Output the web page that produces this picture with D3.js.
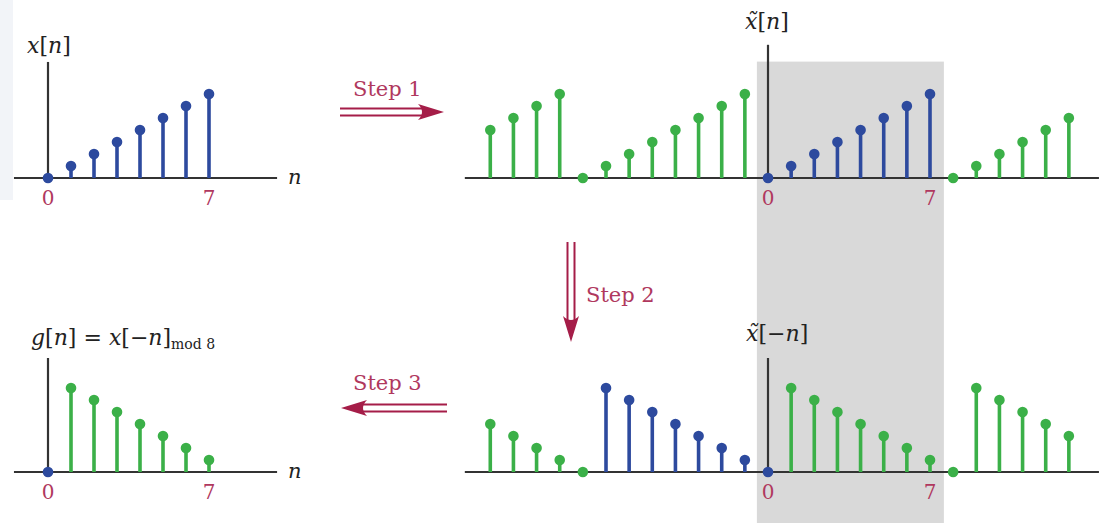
<!DOCTYPE html>
<html>
<head>
<meta charset="utf-8">
<script src="https://cdn.jsdelivr.net/npm/d3@7"></script>
<style>
  body { margin: 0; background: #fff; }
  svg { display: block; }
</style>
</head>
<body>
<div id="chart"></div>
<script>
// x[n], 0..7
const nBase = [0, 1, 2, 3, 4, 5, 6, 7];
const xValues = [0, 1, 2, 3, 4, 5, 6, 7];

// periodic extension x~[n], n = -12..13
const nExt = [-12, -11, -10, -9, -8, -7, -6, -5, -4, -3, -2, -1, 0, 1, 2, 3, 4, 5, 6, 7, 8, 9, 10, 11, 12, 13];
const xTildeValues = [4, 5, 6, 7, 0, 1, 2, 3, 4, 5, 6, 7, 0, 1, 2, 3, 4, 5, 6, 7, 0, 1, 2, 3, 4, 5];

// time reversed x~[-n], n = -12..13
const xTildeRevValues = [4, 3, 2, 1, 0, 7, 6, 5, 4, 3, 2, 1, 0, 7, 6, 5, 4, 3, 2, 1, 0, 7, 6, 5, 4, 3];

// g[n] = x[-n] mod 8, 0..7
const gValues = [0, 7, 6, 5, 4, 3, 2, 1];

const tickLabels = ["0", "7"];
const stepLabels = ["Step 1", "Step 2", "Step 3"];

const width = 1109;
const height = 523;

const blue = "#2d4a9e";
const green = "#3bb048";
const axisColor = "#333";
const red = "#b0385e";
const arrowColor = "#a51d48";
const mathFont = "DejaVu Serif, serif";

const svg = d3.select("#chart")
  .append("svg")
  .attr("width", width)
  .attr("height", height);

// light side panel at the left edge
svg.append("rect")
  .attr("x", 0).attr("y", 0)
  .attr("width", 13).attr("height", 200)
  .attr("fill", "#f2f4f8");

// scales for the four panels
const xLeft = d3.scaleLinear().domain([0, 7]).range([48, 209]);
const xRight = d3.scaleLinear().domain([0, 7]).range([768, 930]);
const yTop = d3.scaleLinear().domain([0, 7]).range([178, 94]);
const yBottom = d3.scaleLinear().domain([0, 7]).range([472, 388]);

// gray window n = 0..7 on the right column
svg.append("rect")
  .attr("x", xRight(-0.48))
  .attr("y", yTop(9.7))
  .attr("width", xRight(7.6) - xRight(-0.48))
  .attr("height", height - yTop(9.7))
  .attr("fill", "#d9d9d9");

function drawPanel(x, y, ns, vals, colorOf, nRange, yMax, showN) {
  const g = svg.append("g");

  // horizontal axis
  g.append("line")
    .attr("x1", x(nRange[0])).attr("x2", x(nRange[1]))
    .attr("y1", y(0)).attr("y2", y(0))
    .attr("stroke", axisColor).attr("stroke-width", 2.2);

  // vertical axis
  g.append("line")
    .attr("x1", x(0)).attr("x2", x(0))
    .attr("y1", y(0)).attr("y2", y(yMax))
    .attr("stroke", axisColor).attr("stroke-width", 2.2);

  const data = ns.map((n, i) => ({ n: n, v: vals[i] }));

  g.selectAll(".stem")
    .data(data.filter(d => d.v !== 0))
    .join("line")
    .attr("x1", d => x(d.n)).attr("x2", d => x(d.n))
    .attr("y1", y(0)).attr("y2", d => y(d.v))
    .attr("stroke", d => colorOf(d.n))
    .attr("stroke-width", 3.6);

  g.selectAll(".dot")
    .data(data)
    .join("circle")
    .attr("cx", d => x(d.n))
    .attr("cy", d => y(d.v))
    .attr("r", 5.3)
    .attr("fill", d => colorOf(d.n));

  // tick labels 0 and 7
  g.selectAll(".tick")
    .data(tickLabels)
    .join("text")
    .attr("x", d => x(+d))
    .attr("y", y(0) + 27)
    .attr("text-anchor", "middle")
    .attr("font-family", mathFont)
    .attr("font-size", 20)
    .attr("fill", red)
    .text(d => d);

  if (showN) {
    g.append("text")
      .attr("x", x(nRange[1]) + 11)
      .attr("y", y(0) + 6)
      .attr("font-family", mathFont)
      .attr("font-style", "italic")
      .attr("font-size", 21)
      .attr("fill", "#222")
      .text("n");
  }
}

drawPanel(xLeft, yTop, nBase, xValues, () => blue, [-1.48, 9.96], 9.67, true);
drawPanel(xRight, yTop, nExt, xTildeValues,
  n => (n >= 0 && n <= 7 ? blue : green), [-13.1, 14.3], 11.1, false);
drawPanel(xLeft, yBottom, nBase, gValues, n => (n === 0 ? blue : green), [-1.48, 9.96], 9.5, true);
drawPanel(xRight, yBottom, nExt, xTildeRevValues,
  n => (n >= -7 && n <= 0 ? blue : green), [-13.1, 14.3], 9.5, false);

// panel titles
function mathLabel(x, y, parts) {
  const t = svg.append("text")
    .attr("x", x).attr("y", y)
    .attr("font-family", mathFont)
    .attr("font-size", 22)
    .attr("fill", "#222")
    .style("white-space", "pre");
  parts.forEach(p => {
    const s = t.append("tspan").text(p.t);
    if (p.i) s.attr("font-style", "italic");
    if (p.sub) s.attr("font-size", 14).attr("dy", p.dy);
  });
  return t;
}

mathLabel(27, 53, [{ t: "x", i: true }, { t: "[" }, { t: "n", i: true }, { t: "]" }]);
mathLabel(745, 29, [{ t: "x\u0303", i: true }, { t: "[" }, { t: "n", i: true }, { t: "]" }]);
mathLabel(746, 341, [{ t: "x\u0303", i: true }, { t: "[\u2212" }, { t: "n", i: true }, { t: "]" }]);
mathLabel(31, 345, [
  { t: "g", i: true }, { t: "[" }, { t: "n", i: true }, { t: "] = " },
  { t: "x", i: true }, { t: "[\u2212" }, { t: "n", i: true }, { t: "]" },
  { t: "mod 8", sub: true, dy: 4 }
]);

// double-line arrows (Longrightarrow style)
function doubleArrow(x1, y1, x2, y2) {
  const ang = Math.atan2(y2 - y1, x2 - x1);
  const len = Math.hypot(x2 - x1, y2 - y1);
  const g = svg.append("g")
    .attr("transform", `translate(${x1},${y1}) rotate(${ang * 180 / Math.PI})`);
  const gap = 3.5;
  const headLen = 26;
  [-gap, gap].forEach(o => {
    g.append("line")
      .attr("x1", 0).attr("x2", len - headLen + 6)
      .attr("y1", o).attr("y2", o)
      .attr("stroke", arrowColor).attr("stroke-width", 2);
  });
  g.append("path")
    .attr("d", `M${len},0 L${len - headLen},${-8} Q${len - headLen + 8},0 ${len - headLen},${8} Z`)
    .attr("fill", arrowColor);
}

doubleArrow(340, 112, 444, 112);
doubleArrow(571, 242, 571, 342);
doubleArrow(447, 408, 341, 408);

const stepPos = [[353, 96], [586, 302], [353, 390]];
svg.selectAll(".step")
  .data(stepLabels)
  .join("text")
  .attr("x", (d, i) => stepPos[i][0])
  .attr("y", (d, i) => stepPos[i][1])
  .attr("font-family", mathFont)
  .attr("font-size", 21)
  .attr("fill", red)
  .text(d => d);
</script>
</body>
</html>
